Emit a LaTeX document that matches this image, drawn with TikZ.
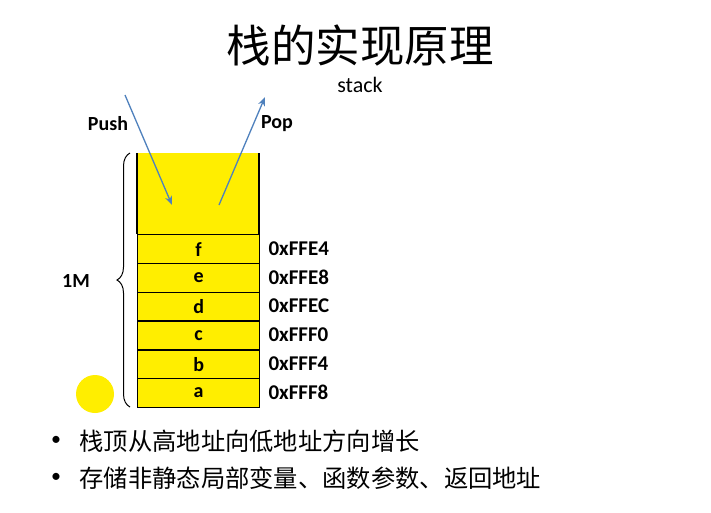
\documentclass[tikz,border=0pt]{standalone}
\usepackage{fontspec}
\setmainfont{Carlito}
\newfontfamily\cjk{Noto Sans CJK SC}
\usetikzlibrary{decorations.pathreplacing,arrows.meta}
\definecolor{stackyellow}{RGB}{255,238,0}
\definecolor{arrowblue}{RGB}{79,129,189}
\begin{document}
\begin{tikzpicture}[x=1pt,y=-1pt,
  cell/.style={draw=black,fill=stackyellow,line width=1.3pt,minimum width=122pt,minimum height=28.8pt,inner sep=0pt,anchor=north west,font=\fontsize{20}{20}\selectfont\bfseries},
  addr/.style={anchor=west,font=\fontsize{21}{21}\selectfont\bfseries},
  lbl/.style={font=\fontsize{20}{20}\selectfont\bfseries},
  arr/.style={draw=arrowblue,line width=1.3pt,-{Stealth[length=9pt,width=7pt]}},
  bullet/.style={anchor=west,font=\cjk\fontsize{24.3}{24}\selectfont}]
\useasboundingbox[fill=white] (0,0) rectangle (711,512);
% title
\node[font=\cjk\fontsize{44.5}{44}\selectfont] (title) at (360,45) {栈的实现原理};
\node[font=\fontsize{22}{22}\selectfont] (sub) at (360,85) {stack};
% top open area
\fill[stackyellow] (137,153) rectangle (259,234);
\draw[line width=1.3pt] (137,153) -- (137,234) (259,153) -- (259,234);
% cells
\node[cell] (f) at (137,234) {f};
\node[cell] (e) at (137,262.8) {e};
\node[cell] (d) at (137,291.6) {d};
\node[cell] (c) at (137,320.4) {c};
\node[cell] (b) at (137,349.2) {b};
\node[cell] (a) at (137,378) {a};
% addresses
\node[addr] (af) at (265,248.4) {0xFFE4};
\node[addr] (ae) at (265,277.2) {0xFFE8};
\node[addr] (ad) at (265,306) {0xFFEC};
\node[addr] (ac) at (265,334.8) {0xFFF0};
\node[addr] (ab) at (265,363.6) {0xFFF4};
\node[addr] (aa) at (265,392.4) {0xFFF8};
% brace
\coordinate (bt) at (130,153);
\coordinate (bb) at (130,407);
\draw[line width=1pt,decorate,decoration={brace,amplitude=13pt,aspect=0.5}] (bb) -- (bt);
\node[lbl] (m) at (76,281) {1M};
% circle
\fill[stackyellow] (95,394) circle (19);
% push/pop
\node[lbl] (push) at (108,124) {Push};
\node[lbl] (pop) at (277,124) {Pop};
\coordinate (ps) at (125,95);
\coordinate (pe) at (172,205);
\coordinate (os) at (219,205);
\coordinate (oe) at (265,97);
\draw[arr] (ps) -- (pe);
\draw[arr] (os) -- (oe);
% bullets
\node[font=\fontsize{20}{20}\selectfont] (b1) at (56,441) {\textbullet};
\node[font=\fontsize{20}{20}\selectfont] (b2) at (56,478) {\textbullet};
\node[bullet] (t1) at (76,441) {栈顶从高地址向低地址方向增长};
\node[bullet] (t2) at (76,478) {存储非静态局部变量、函数参数、返回地址};
\end{tikzpicture}
\end{document}
